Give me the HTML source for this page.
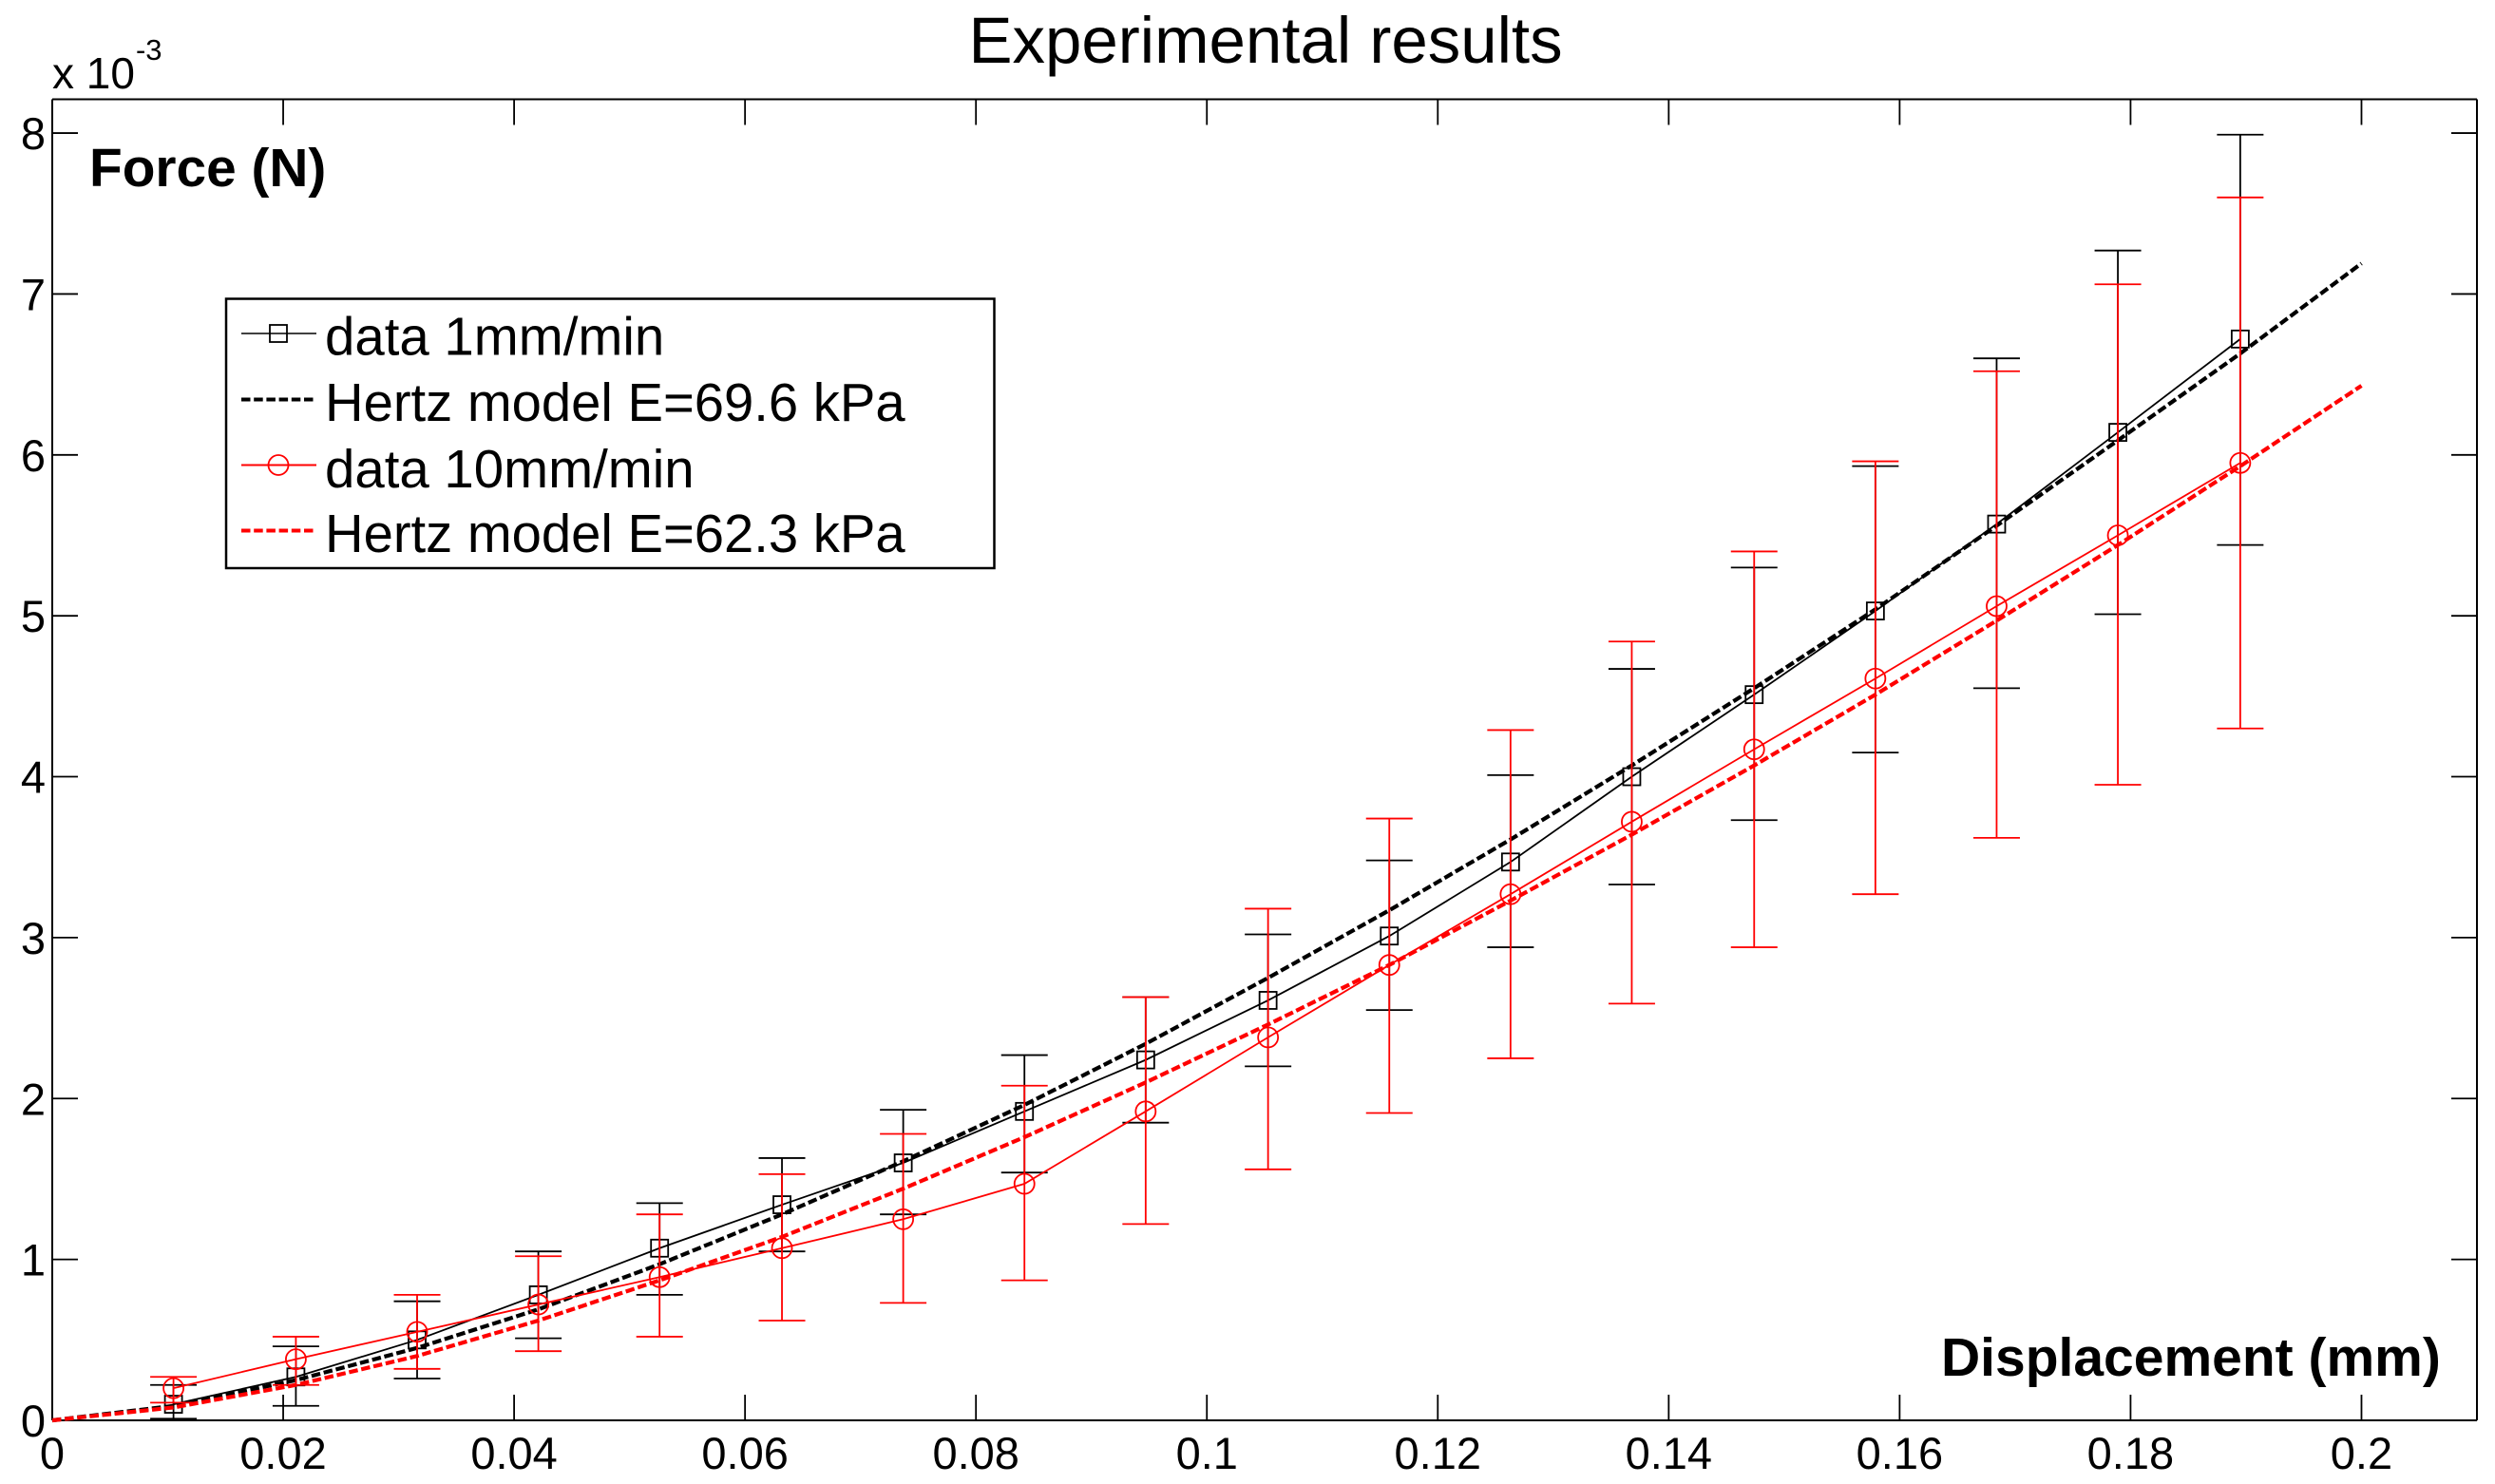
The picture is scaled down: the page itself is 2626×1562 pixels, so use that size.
<!DOCTYPE html>
<html lang="en">
<head>
<meta charset="utf-8">
<title>Experimental results</title>
<style>
html,body{margin:0;padding:0;background:#fff;}
svg{display:block;}
text{font-family:"Liberation Sans",Arial,sans-serif;fill:#000;}
</style>
</head>
<body>
<svg id="chart" xmlns="http://www.w3.org/2000/svg" width="2626" height="1562" viewBox="0 0 2626 1562">
  <rect x="0" y="0" width="2626" height="1562" fill="#fff"/>
  <text x="1019.5" y="66" font-size="69">Experimental results</text>
  <text x="55" y="93" font-size="46">x 10<tspan dx="1" dy="-30" font-size="31">-3</tspan></text>
  <g id="plot"></g>
  <text x="94" y="196" font-size="56.8" font-weight="bold">Force (N)</text>
  <text x="2043" y="1448" font-size="57" font-weight="bold">Displacement (mm)</text>
  <g>
    <rect x="238" y="314.5" width="808.5" height="283.5" fill="#fff" stroke="#000" stroke-width="2.5"/>
    <g>
      <line x1="254" y1="351" x2="333" y2="351" stroke="#000" stroke-width="1.6"/>
      <rect x="284" y="342" width="18" height="18" fill="none" stroke="#000" stroke-width="1.8"/>
      <text x="342" y="373.5" font-size="56.4">data 1mm/min</text>
    </g>
    <g>
      <line x1="254" y1="420.5" x2="333" y2="420.5" stroke="#000" stroke-width="4" stroke-dasharray="9.5 3.7"/>
      <text x="342" y="443" font-size="56.2">Hertz model E=69.6 kPa</text>
    </g>
    <g>
      <line x1="254" y1="489.5" x2="333" y2="489.5" stroke="#f00" stroke-width="2"/>
      <circle cx="293" cy="489.5" r="10.5" fill="none" stroke="#f00" stroke-width="1.8"/>
      <text x="342" y="513" font-size="56.4">data 10mm/min</text>
    </g>
    <g>
      <line x1="254" y1="558.5" x2="333" y2="558.5" stroke="#f00" stroke-width="4" stroke-dasharray="9.5 3.7"/>
      <text x="342" y="581" font-size="56.2">Hertz model E=62.3 kPa</text>
    </g>
  </g>
</svg>
<script>
// Chart data (force values in units of 1e-3 N, displacement in mm)
const xTicks = [0, 0.02, 0.04, 0.06, 0.08, 0.1, 0.12, 0.14, 0.16, 0.18, 0.2];
const xTickLabels = ["0", "0.02", "0.04", "0.06", "0.08", "0.1", "0.12", "0.14", "0.16", "0.18", "0.2"];
const yTicks = [0, 1, 2, 3, 4, 5, 6, 7, 8];
const yTickLabels = ["0", "1", "2", "3", "4", "5", "6", "7", "8"];

const dataDisplacement = [0.0105, 0.0211, 0.0316, 0.0421, 0.0526, 0.0632, 0.0737, 0.0842, 0.0947, 0.1053, 0.1158, 0.1263, 0.1368, 0.1474, 0.1579, 0.1684, 0.1789, 0.1895];

const data1Mean = [0.10, 0.27, 0.50, 0.78, 1.07, 1.34, 1.60, 1.92, 2.24, 2.61, 3.01, 3.47, 4.00, 4.51, 5.03, 5.57, 6.14, 6.72];
const data1Upper = [0.22, 0.46, 0.74, 1.05, 1.35, 1.63, 1.93, 2.27, 2.63, 3.02, 3.48, 4.01, 4.67, 5.30, 5.93, 6.60, 7.27, 7.99];
const data1Lower = [0.01, 0.09, 0.26, 0.51, 0.78, 1.05, 1.28, 1.54, 1.85, 2.20, 2.55, 2.94, 3.33, 3.73, 4.15, 4.55, 5.01, 5.44];

const data10Mean = [0.20, 0.38, 0.55, 0.72, 0.89, 1.07, 1.25, 1.47, 1.92, 2.38, 2.83, 3.27, 3.72, 4.17, 4.61, 5.06, 5.50, 5.95];
const data10Upper = [0.27, 0.52, 0.78, 1.02, 1.28, 1.53, 1.78, 2.08, 2.63, 3.18, 3.74, 4.29, 4.84, 5.40, 5.96, 6.52, 7.06, 7.60];
const data10Lower = [0.11, 0.22, 0.32, 0.43, 0.52, 0.62, 0.73, 0.87, 1.22, 1.56, 1.91, 2.25, 2.59, 2.94, 3.27, 3.62, 3.95, 4.30];

const hertzDisplacement = [0, 0.0105, 0.0211, 0.0316, 0.0421, 0.0526, 0.0632, 0.0737, 0.0842, 0.0947, 0.1053, 0.1158, 0.1263, 0.1368, 0.1474, 0.1579, 0.1684, 0.1789, 0.1895, 0.2];
const hertz69 = [0, 0.09, 0.25, 0.45, 0.69, 0.97, 1.28, 1.61, 1.96, 2.34, 2.75, 3.17, 3.61, 4.07, 4.55, 5.04, 5.56, 6.09, 6.63, 7.19];
const hertz62 = [0, 0.08, 0.22, 0.40, 0.62, 0.87, 1.14, 1.44, 1.76, 2.10, 2.46, 2.83, 3.23, 3.64, 4.07, 4.51, 4.97, 5.44, 5.93, 6.43];

const xDomainMax = 0.21;
const yDomainMax = 8.21;

const plotLeft = 55, plotRight = 2607, plotTop = 104.5, plotBottom = 1495;
const capHalf = 24.5, tickLen = 27;
const svgNS = "http://www.w3.org/2000/svg";
const plot = document.getElementById("plot");

function xScale(v) { return plotLeft + (v / xDomainMax) * (plotRight - plotLeft); }
function yScale(v) { return plotBottom - (v / yDomainMax) * (plotBottom - plotTop); }

function drawLine(name, x1, y1, x2, y2, color, width) {
  const el = document.createElementNS(svgNS, "line");
  
  
  el.setAttribute("x1", x1);
  el.setAttribute("y1", y1);
  el.setAttribute("x2", x2);
  el.setAttribute("y2", y2);
  el.setAttribute("stroke", color);
  el.setAttribute("stroke-width", width);
  plot.appendChild(el);
}

function drawLabel(name, x, y, anchor, str) {
  const el = document.createElementNS(svgNS, "text");
  
  
  el.setAttribute("x", x);
  el.setAttribute("y", y);
  el.setAttribute("text-anchor", anchor);
  el.setAttribute("font-size", "47");
  el.textContent = str;
  plot.appendChild(el);
}

function drawPolyline(name, xs, ys, color, width, dash) {
  const el = document.createElementNS(svgNS, "polyline");
  
  
  el.setAttribute("points", xs.map(function (x, i) { return xScale(x).toFixed(2) + "," + yScale(ys[i]).toFixed(2); }).join(" "));
  el.setAttribute("fill", "none");
  el.setAttribute("stroke", color);
  el.setAttribute("stroke-width", width);
  if (dash) el.setAttribute("stroke-dasharray", dash);
  plot.appendChild(el);
}

function drawErrorBars(prefix, xs, lower, upper, color) {
  xs.forEach(function (x, i) {
    const px = xScale(x);
    drawLine(prefix + "-error-stem", px, yScale(lower[i]), px, yScale(upper[i]), color, 1.8);
    drawLine(prefix + "-error-cap-upper", px - capHalf, yScale(upper[i]), px + capHalf, yScale(upper[i]), color, 1.8);
    drawLine(prefix + "-error-cap-lower", px - capHalf, yScale(lower[i]), px + capHalf, yScale(lower[i]), color, 1.8);
  });
}

function drawSquares(name, xs, ys, color) {
  xs.forEach(function (x, i) {
    const el = document.createElementNS(svgNS, "rect");
    
    
    el.setAttribute("x", xScale(x) - 9);
    el.setAttribute("y", yScale(ys[i]) - 9);
    el.setAttribute("width", 18);
    el.setAttribute("height", 18);
    el.setAttribute("fill", "none");
    el.setAttribute("stroke", color);
    el.setAttribute("stroke-width", 1.8);
    plot.appendChild(el);
  });
}

function drawCircles(name, xs, ys, color) {
  xs.forEach(function (x, i) {
    const el = document.createElementNS(svgNS, "circle");
    
    
    el.setAttribute("cx", xScale(x));
    el.setAttribute("cy", yScale(ys[i]));
    el.setAttribute("r", 10.5);
    el.setAttribute("fill", "none");
    el.setAttribute("stroke", color);
    el.setAttribute("stroke-width", 1.8);
    plot.appendChild(el);
  });
}

// Axes frame
drawLine("axis-top", plotLeft, plotTop, plotRight, plotTop, "#000", 2);
drawLine("axis-bottom", plotLeft, plotBottom, plotRight, plotBottom, "#000", 2);
drawLine("axis-left", plotLeft, plotTop, plotLeft, plotBottom, "#000", 2);
drawLine("axis-right", plotRight, plotTop, plotRight, plotBottom, "#000", 2);

// Ticks and labels
xTicks.forEach(function (t, i) {
  const px = xScale(t);
  drawLine("x-tick-bottom", px, plotBottom, px, plotBottom - tickLen, "#000", 1.8);
  drawLine("x-tick-top", px, plotTop, px, plotTop + tickLen, "#000", 1.8);
  drawLabel("x-tick-label", px, 1546, "middle", xTickLabels[i]);
});
yTicks.forEach(function (t, i) {
  const py = yScale(t);
  drawLine("y-tick-left", plotLeft, py, plotLeft + tickLen, py, "#000", 1.8);
  drawLine("y-tick-right", plotRight, py, plotRight - tickLen, py, "#000", 1.8);
  drawLabel("y-tick-label", 48, py + 17, "end", yTickLabels[i]);
});

// Series
drawErrorBars("data-1mm", dataDisplacement, data1Lower, data1Upper, "#000");
drawPolyline("data-1mm-line", dataDisplacement, data1Mean, "#000", 1.8);
drawSquares("data-1mm-marker", dataDisplacement, data1Mean, "#000");
drawPolyline("hertz-69-line", hertzDisplacement, hertz69, "#000", 4.2, "9.5 3.7");
drawErrorBars("data-10mm", dataDisplacement, data10Lower, data10Upper, "#f00");
drawPolyline("data-10mm-line", dataDisplacement, data10Mean, "#f00", 1.8);
drawCircles("data-10mm-marker", dataDisplacement, data10Mean, "#f00");
drawPolyline("hertz-62-line", hertzDisplacement, hertz62, "#f00", 4.2, "9.5 3.7");
</script>
</body>
</html>
